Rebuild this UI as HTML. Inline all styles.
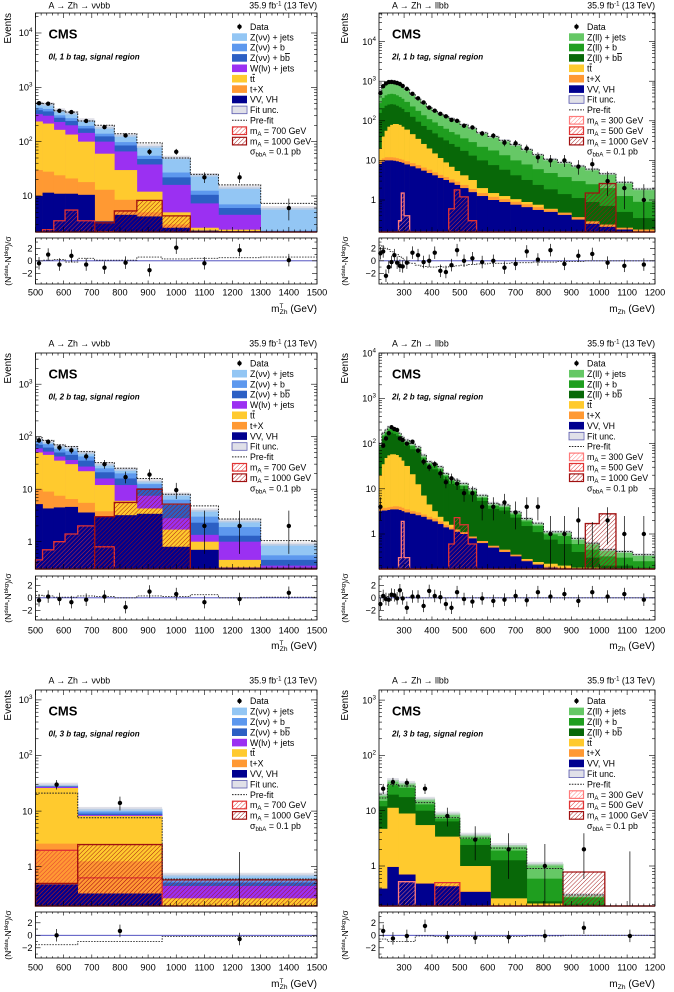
<!DOCTYPE html>
<html><head><meta charset="utf-8">
<style>
html,body{margin:0;padding:0;background:#fff;}
svg{display:block;font-family:"Liberation Sans",Arial,sans-serif;}
</style></head>
<body>
<svg id="fig" xmlns="http://www.w3.org/2000/svg" width="674" height="992" viewBox="0 0 674 992">
<defs>
<pattern id="h-s300" width="3" height="3" patternUnits="userSpaceOnUse" patternTransform="rotate(45)"><line x1="0" y1="0" x2="0" y2="3" stroke="#ff7a7a" stroke-width="0.9"/></pattern>
<pattern id="h-s500" width="3" height="3" patternUnits="userSpaceOnUse" patternTransform="rotate(45)"><line x1="0" y1="0" x2="0" y2="3" stroke="#e03333" stroke-width="0.9"/></pattern>
<pattern id="h-s1000" width="3" height="3" patternUnits="userSpaceOnUse" patternTransform="rotate(45)"><line x1="0" y1="0" x2="0" y2="3" stroke="#a01010" stroke-width="0.9"/></pattern>
<pattern id="h-fit" width="2" height="2" patternUnits="userSpaceOnUse"><rect width="2" height="2" fill="#e4e4ec" opacity="0.5"/><line x1="1" y1="0" x2="1" y2="2" stroke="#b8b8c8" stroke-width="0.6"/></pattern>
</defs>
</svg>
<script>
// ---------- binning ----------
const edgesVV = [500,525,565,605,650,710,780,860,950,1050,1150,1300,1500];
const edgesVV3 = [500,650,950,1500];
const edgesLL = [210,220,230,240,250,260,270,280,290,300,320,340,360,380,400,420,440,460,480,500,530,560,600,640,680,720,760,800,850,900,950,1000,1060,1120,1200];
const edgesLL3 = [210,240,280,340,410,500,610,740,870,1020,1200];

// ---------- 0l, 1b (cumulative stack tops) ----------
const r1l_zj  = [507,490,380,340,250,185,132,83,51,24.4,14.4,6.0];
const r1l_zb  = [420,400,305,270,195,140,98,55,27,12.5,7.0,2.3];
const r1l_zbb = [380,360,275,240,175,125,85,48,22,10.5,6.0,2.25];
const r1l_w   = [320,300,230,200,145,100,66,38,16,7.3,4.5,2.2];
const r1l_tt  = [235,215,165,135,100,60,30,12,5.0,2.6,2.4,2.2];
const r1l_tx  = [30,28,24,21,18,13,8.5,5.0,3.0,2.3,2.25,2.2];
const r1l_vv  = [10,11.5,11,11,10.5,3.4,4.5,4.2,2.6,2.3,2.25,2.2];
const r1l_data = [510,500,370,350,240,185,130,65,65,22,22,6];
const r1l_prefit = [510,500,370,350,240,200,140,95,50,25,16,7.3];
const r1l_ratio = [-0.4,1.0,-0.6,0.8,-0.6,-1.1,-0.3,-1.5,2.1,-0.4,1.7,0.1];
const r1l_prefitRatio = [0,0.1,0.2,-0.2,0.4,0.1,0.1,0.6,0.3,0.4,0.5,0.6];
const r1l_sig700 = [0,2.4,3.5,5.5,3.5,2.2,0,0,0,0,0,0];
const r1l_sig1000 = [0,0,0,0,0,3.2,5.3,8.3,4.3,0,0,0];

// ---------- 2l, 1b ----------
const r1r_zj  = [540,760,890,980,1000,1000,930,850,760,630,470,360,280,220,178,150,132,115,100,80,66,50,40,32,25,19,14,10.7,8.9,7.2,6.0,4.6,2.8,1.9];
const r1r_zb  = [280,380,440,470,480,470,440,400,360,300,230,178,138,110,91,74,63,52,45,36,29,22,17.8,13.5,10,7.9,6,4.8,3.8,3.0,2.5,2.0,1.26,0.9];
const r1r_zbb = [158,210,240,257,263,257,240,219,200,166,126,95,74,59,48,38,32,26,22,17.4,13.2,10,7.6,5.8,4.2,3.2,2.4,1.86,1.41,1.12,0.89,0.71,0.5,0.35];
const r1r_tt  = [20,40,56,71,79,83,83,79,71,60,46,35,26,20,15,11.5,8.9,6.9,5.4,4.2,3.2,2.0,1.5,1.26,1.05,0.89,0.76,0.6,0.45,0.32,0.25,0.2,0.18,0.16];
const r1r_tx  = [9.5,11.2,12,12,12,11.8,11.4,10.9,10.4,9.5,8.5,7.6,6.6,5.8,5.0,4.3,3.8,3.3,2.9,2.4,1.9,1.5,1.2,1.05,0.9,0.78,0.66,0.58,0.48,0.37,0.29,0.24,0.2,0.18];
const r1r_vv  = [7.9,9.3,10,10,10,9.8,9.5,9.1,8.7,7.9,7.1,6.3,5.5,4.8,4.2,3.6,3.2,2.75,2.4,2.0,1.58,1.26,1.0,0.89,0.76,0.66,0.56,0.5,0.42,0.32,0.25,0.21,0.18,0.16];
const r1r_data = [500,750,880,950,960,940,900,850,760,640,480,370,290,215,180,150,130,105,100,75,68,48,42,28,27,20,12,10,10,7,8,3,2,1];
const r1r_ratio = [1.2,1.5,-2.4,-1,-0.2,0.9,-0.3,-0.8,-0.9,-0.3,1.3,0.9,-0.2,0,1.3,-1.6,-1.8,-0.7,1.7,0,0.4,-0.2,0,-1.1,-0.5,1.5,0.2,1.7,-0.5,0.8,1.1,-0.3,-0.8,-0.6];
const r1r_prefitRatio = [2.5,2.2,2.0,1.8,1.5,1.2,1.0,0.7,0.4,0,-0.4,-0.7,-0.9,-1,-1,-0.9,-1,-0.9,-0.8,-0.7,-0.6,-0.5,-0.4,-0.4,-0.3,-0.3,-0.2,-0.2,-0.1,-0.1,0,0,0,0];
const r1r_sig300 = [0,0,0,0,0,0,0,0.3,1.5,0.4,0,0,0,0,0,0,0,0,0,0,0,0,0,0,0,0,0,0,0,0,0,0,0,0];
const r1r_sig500 = [0,0,0,0,0,0,0,0,0,0,0,0,0,0,0,0,0,0.6,1.8,1.2,0.3,0,0,0,0,0,0,0,0,0,0,0,0,0];
const r1r_sig1000 = [0,0,0,0,0,0,0,0,0,0,0,0,0,0,0,0,0,0,0,0,0,0,0,0,0,0,0,0,0,0,1.5,2.6,0,0];

// ---------- 0l, 2b ----------
const r2l_zj  = [90,80,67,62,50,30,24,14.4,8.0,4.0,2.5,0.9];
const r2l_zb  = [80,72,58,53,42,25,20,12.5,6.3,3.0,1.9,0.55];
const r2l_zbb = [70,62,50,45,35,21,16,10.5,5.0,2.3,1.3,0.45];
const r2l_w   = [60,52,42,36,27,16,12,7.5,2.8,1.35,1.0,0.35];
const r2l_tt  = [50,45,35,30,22,12,6.0,4.3,1.7,1.0,0.45,0.32];
const r2l_tx  = [10,9,7.5,6.5,5.5,3.8,3.0,2.0,0.8,0.7,0.33,0.32];
const r2l_vv  = [5.2,4.3,4.5,4.6,3.6,3.0,3.2,3.4,0.8,0.7,0.32,0.32];
const r2l_data = [85,80,62,55,42,30,17,19,9.6,2,2,2];
const r2l_prefit = [95,85,70,65,52,32,25,16,8,4.8,2.7,1.05];
const r2l_ratio = [-0.4,0.2,-0.2,-0.7,-0.3,0.2,-1.5,1.0,0.6,-0.7,-0.2,0.8];
const r2l_prefitRatio = [0.4,0.3,0.1,0.1,0.3,0.2,0,0.3,0.2,0.5,0,0.1];
const r2l_sig700 = [0.45,0.7,1.0,1.4,2.0,0.8,0,0,0,0,0,0];
const r2l_sig1000 = [0,0,0,0,0,3.0,5.6,10,5.2,0,0,0];

// ---------- 2l, 2b ----------
const r2r_zj  = [100,170,200,234,234,219,200,170,141,120,100,85,56,40,36,31,22,17,15.5,13.2,10,7.2,4.8,4.4,3.1,2.2,1.74,1.12,1.12,0.8,0.63,0.45,0.41,0.35];
const r2r_zb  = [88,150,176,206,206,193,176,150,124,106,88,75,49,35,32,27,19.4,15,13.6,11.6,8.8,6.3,4.2,3.9,2.7,1.9,1.5,0.98,0.9,0.6,0.45,0.32,0.3,0.25];
const r2r_zbb = [75,128,150,175,175,164,150,128,106,90,75,64,42,30,27,23,16.5,12.8,11.6,9.9,7.5,5.4,3.6,3.3,2.3,1.5,1.1,0.75,0.6,0.4,0.3,0.2,0.2,0.18];
const r2r_tt  = [20,35,48,55,58,58,56,50,42,32,21,12.6,7.1,4.5,3.2,2.4,1.9,1.6,1.26,1.0,0.8,0.7,0.5,0.45,0.32,0.28,0.24,0.22,0.2,0.18,0.18,0.17,0.17,0.17];
const r2r_tx  = [3.6,3.8,3.8,3.9,4.0,4.1,4.1,4.0,3.8,3.5,3.2,3.0,2.7,2.4,2.2,1.9,1.6,1.4,1.25,1.1,0.88,0.7,0.55,0.44,0.35,0.27,0.22,0.19,0.18,0.17,0.17,0.17,0.17,0.17];
const r2r_vv  = [3.2,3.3,3.3,3.4,3.5,3.5,3.5,3.4,3.2,3.0,2.8,2.6,2.4,2.1,1.9,1.66,1.4,1.26,1.12,1.0,0.8,0.63,0.5,0.4,0.32,0.25,0.21,0.18,0.17,0.17,0.17,0.17,0.17,0.17];
const r2r_data = [4,90,130,170,230,210,200,130,120,100,110,70,40,30,35,22,14,17,13,8,8,4,4,5,3,4,4,1,1,2,0,2,1,1];
const r2r_ratio = [-1,0.3,-0.2,-0.3,0.5,0.4,-0.1,1.2,-0.1,-1.6,0.2,0.2,-1.3,1.1,0.3,0.1,-1,-1.6,0.9,-0.2,-0.6,-0.1,-0.5,-0.3,0.3,-0.4,0.9,0.2,0.6,-0.5,0.9,0.2,0.6,-0.3];
const r2r_prefitRatio = [0.3,0.3,0.2,0.2,0.2,0.2,0.1,0.1,0.1,0.1,0,0,0,0,0,0,0,0,0,0,0,0,0,0,0,0,0,0,0,0,0,0,0,0];
const r2r_sig300 = [0,0,0,0,0,0,0,0.3,1.9,0.3,0,0,0,0,0,0,0,0,0,0,0,0,0,0,0,0,0,0,0,0,0,0,0,0];
const r2r_sig500 = [0,0,0,0,0,0,0,0,0,0,0,0,0,0,0,0,0,0.6,2.3,1.6,0.6,0,0,0,0,0,0,0,0,0,0,0,0,0];
const r2r_sig1000 = [0,0,0,0,0,0,0,0,0,0,0,0,0,0,0,0,0,0,0,0,0,0,0,0,0,0,0,0,0,0,1.7,2.8,0,0];

// ---------- 0l, 3b ----------
const r3l_zj  = [30,11,0.72];
const r3l_zb  = [29,9.8,0.58];
const r3l_zbb = [28,9.0,0.52];
const r3l_w   = [27,8.5,0.45];
const r3l_tt  = [26,8.2,0.27];
const r3l_tx  = [2.6,1.25,0.2];
const r3l_vv  = [0.48,0.33,0.2];
const r3l_data = [30,14,0];
const r3l_prefit = [21,7.6,0.6];
const r3l_ratio = [0,0.7,-0.6];
const r3l_prefitRatio = [-1.5,-1.0,-0.2];
const r3l_sig700 = [1.97,0.63,0];
const r3l_sig1000 = [0.5,2.5,0.58];

// ---------- 2l, 3b ----------
const r3r_zj  = [20,36,32,16.5,8.9,3.7,2.4,1.1,0.3,0];
const r3r_zb  = [15,29,26,13,7.2,3.1,1.9,0.59,0.27,0];
const r3r_zbb = [12,19.5,17.6,10,6.4,2.4,1.27,0.23,0.2,0];
const r3r_tt  = [4.7,11.3,8.9,5.5,3.4,1.0,0.26,0.21,0.19,0];
const r3r_tx  = [0.39,0.97,0.71,0.49,0.44,0.35,0.19,0.19,0.19,0];
const r3r_vv  = [0.39,0.96,0.7,0.48,0.43,0.34,0.19,0.19,0.19,0];
const r3r_data = [25,33,32,25,8,3,2,1,2,0];
const r3r_prefit = [17,30,28,14,7.5,3.2,2.1,0.9,0.3,0];
const r3r_ratio = [0.7,-0.5,-0.1,1.5,-0.3,-0.4,-0.3,-0.1,1.2,-0.1];
const r3r_prefitRatio = [-0.6,-1.0,-1.0,-0.1,-0.2,-0.2,-0.2,-0.1,0,0];
const r3r_sig300 = [0,0,0.52,0,0,0,0,0,0,0];
const r3r_sig500 = [0,0,0,0,0.5,0,0,0,0,0];
const r3r_sig1000 = [0,0,0,0,0,0,0,0,0.78,0];

// ---------- tick labels ----------
const xTicksVV = [500,600,700,800,900,1000,1100,1200,1300,1400,1500];
const xTicksLL = [300,400,500,600,700,800,900,1000,1100,1200];
const ratioTicks = [-2,0,2];

const C = {zvj:'#93c6f4',zvb:'#5d98ee',zvbb:'#2c5fc4',w:'#9b30f2',tt:'#ffca2e',tx:'#ff9933',vv:'#00008f',zlj:'#66c866',zlb:'#1f9e1f',zlbb:'#086808',s300:'#ff7a7a',s500:'#e03333',s1000:'#a01010'};

const svg = document.getElementById('fig');
const NS = 'http://www.w3.org/2000/svg';
function mk(tag, parent, attrs){ const e = document.createElementNS(NS, tag); for (const k in attrs) e.setAttribute(k, attrs[k]); parent.appendChild(e); return e; }

const rows = [
  {oy:0,   mt:13, mb:232, rt:238, rb:284, r0:260.8, hdr:5, xl:292, xt:309},
  {oy:330, mt:23, mb:239, rt:246, rb:290, r0:267.8, hdr:13, xl:300, xt:316},
  {oy:662, mt:28, mb:244, rt:250, rb:296, r0:273.3, hdr:18, xl:305, xt:322}
];

const FS = 8.8;
const vvLegend = ()=>[['data','Data'],['box','Z(νν) + jets',C.zvj],['box','Z(νν) + b',C.zvb],['box','Z(νν) + b|b',C.zvbb],['box','W(lν) + jets',C.w],['box','t|t',C.tt],['box','t+X',C.tx],['box','VV, VH',C.vv],['fit','Fit unc.'],['prefit','Pre-fit'],['sig','m_A = 700 GeV','s500'],['sig','m_A = 1000 GeV','s1000'],['text','σ_bbA = 0.1 pb']];
const llLegend = ()=>[['data','Data'],['box','Z(ll) + jets',C.zlj],['box','Z(ll) + b',C.zlb],['box','Z(ll) + b|b',C.zlbb],['box','t|t',C.tt],['box','t+X',C.tx],['box','VV, VH',C.vv],['fit','Fit unc.'],['prefit','Pre-fit'],['sig','m_A = 300 GeV','s300'],['sig','m_A = 500 GeV','s500'],['sig','m_A = 1000 GeV','s1000'],['text','σ_bbA = 0.1 pb']];

const panels = [
 {name:'panel-0l-1b', row:0, ox:0, fx0:35.5, fx1:317, xmin:500, xmax:1500, y1:250.3, dec:54.33, edges:edgesVV, ll:false, tag:'0l, 1 b tag, signal region',
  stack:[[r1l_zj,C.zvj],[r1l_zb,C.zvb],[r1l_zbb,C.zvbb],[r1l_w,C.w],[r1l_tt,C.tt],[r1l_tx,C.tx],[r1l_vv,C.vv]],
  data:r1l_data, prefit:r1l_prefit, ratio:r1l_ratio, pr:r1l_prefitRatio, sigs:[[r1l_sig700,'s500'],[r1l_sig1000,'s1000']]},
 {name:'panel-2l-1b', row:0, ox:337, fx0:42, fx1:318, xmin:210, xmax:1200, y1:200, dec:39.6, edges:edgesLL, ll:true, tag:'2l, 1 b tag, signal region',
  stack:[[r1r_zj,C.zlj],[r1r_zb,C.zlb],[r1r_zbb,C.zlbb],[r1r_tt,C.tt],[r1r_tx,C.tx],[r1r_vv,C.vv]],
  data:r1r_data, prefit:r1r_zj, ratio:r1r_ratio, pr:r1r_prefitRatio, sigs:[[r1r_sig300,'s300'],[r1r_sig500,'s500'],[r1r_sig1000,'s1000']]},
 {name:'panel-0l-2b', row:1, ox:0, fx0:35.5, fx1:317, xmin:500, xmax:1500, y1:211.7, dec:52.5, edges:edgesVV, ll:false, tag:'0l, 2 b tag, signal region',
  stack:[[r2l_zj,C.zvj],[r2l_zb,C.zvb],[r2l_zbb,C.zvbb],[r2l_w,C.w],[r2l_tt,C.tt],[r2l_tx,C.tx],[r2l_vv,C.vv]],
  data:r2l_data, prefit:r2l_prefit, ratio:r2l_ratio, pr:r2l_prefitRatio, sigs:[[r2l_sig700,'s500'],[r2l_sig1000,'s1000']]},
 {name:'panel-2l-2b', row:1, ox:337, fx0:42, fx1:318, xmin:210, xmax:1200, y1:204, dec:45.2, edges:edgesLL, ll:true, tag:'2l, 2 b tag, signal region',
  stack:[[r2r_zj,C.zlj],[r2r_zb,C.zlb],[r2r_zbb,C.zlbb],[r2r_tt,C.tt],[r2r_tx,C.tx],[r2r_vv,C.vv]],
  data:r2r_data, prefit:r2r_zj, ratio:r2r_ratio, pr:r2r_prefitRatio, sigs:[[r2r_sig300,'s300'],[r2r_sig500,'s500'],[r2r_sig1000,'s1000']]},
 {name:'panel-0l-3b', row:2, ox:0, fx0:35.5, fx1:317, xmin:500, xmax:1500, y1:204.7, dec:55.6, edges:edgesVV3, ll:false, tag:'0l, 3 b tag, signal region',
  stack:[[r3l_zj,C.zvj],[r3l_zb,C.zvb],[r3l_zbb,C.zvbb],[r3l_w,C.w],[r3l_tt,C.tt],[r3l_tx,C.tx],[r3l_vv,C.vv]],
  data:r3l_data, prefit:r3l_prefit, ratio:r3l_ratio, pr:r3l_prefitRatio, sigs:[[r3l_sig700,'s500'],[r3l_sig1000,'s1000']]},
 {name:'panel-2l-3b', row:2, ox:337, fx0:42, fx1:318, xmin:210, xmax:1200, y1:204, dec:55.3, edges:edgesLL3, ll:true, tag:'2l, 3 b tag, signal region',
  stack:[[r3r_zj,C.zlj],[r3r_zb,C.zlb],[r3r_zbb,C.zlbb],[r3r_tt,C.tt],[r3r_tx,C.tx],[r3r_vv,C.vv]],
  data:r3r_data, prefit:r3r_prefit, ratio:r3r_ratio, pr:r3r_prefitRatio, sigs:[[r3r_sig300,'s300'],[r3r_sig500,'s500'],[r3r_sig1000,'s1000']]}
];

function txt(parent, x, y, s, size, attrs){ const t = mk('text', parent, Object.assign({x:x, y:y, 'font-size':size, fill:'#000'}, attrs||{})); t.textContent = s; return t; }
function subLabel(parent, x, y, main, sub, size, rest){
  const t = mk('text', parent, {x:x, y:y, 'font-size':size});
  const a = mk('tspan', t, {}); a.textContent = main;
  const b = mk('tspan', t, {'font-size':size*0.7, dy:2}); b.textContent = sub;
  if (rest){ const c = mk('tspan', t, {dy:-2}); c.textContent = rest; }
  return t;
}
// "|" marks the start of an overlined final character sequence
function barLabel(parent, x, y, lbl, size){
  const t = mk('text', parent, {x:x, y:y, 'font-size':size});
  const [a, b] = lbl.split('|');
  const s1 = mk('tspan', t, {}); s1.textContent = a;
  const s2 = mk('tspan', t, {'text-decoration':'overline'}); s2.textContent = b;
  return t;
}

panels.forEach(P => {
  const R = rows[P.row];
  const g = mk('g', svg, {transform:`translate(${P.ox},${R.oy})`});
  
  
  const X = v => P.fx0 + (v - P.xmin) / (P.xmax - P.xmin) * (P.fx1 - P.fx0);
  const Y = v => { if (!(v > 0)) return R.mb; const y = P.y1 - Math.log10(v) * P.dec; return Math.max(R.mt, Math.min(R.mb, y)); };
  const RY = v => Math.max(R.rt, Math.min(R.rb, R.r0 - v * 6.25));
  const E = P.edges, nb = E.length - 1;

  P.stack.forEach((comp, ci) => {
    const sg = mk('g', g, {});
    
    
    for (let i = 0; i < nb; i++) {
      const y = Y(comp[0][i]);
      const r = mk('rect', sg, {x:X(E[i]), y:y, width:X(E[i+1]) - X(E[i]) + 0.3, height:R.mb - y, fill:comp[1]});
      
      
    }
  });
  const tot = P.stack[0][0];
  for (let i = 0; i < nb; i++) {
    if (!(tot[i] > 0)) continue;
    const y0 = Y(tot[i] * 1.08), y1 = Y(tot[i] * 0.93);
    const r = mk('rect', g, {x:X(E[i]), y:y0, width:X(E[i+1]) - X(E[i]), height:Math.max(0, y1 - y0), fill:'url(#h-fit)'});
    
    
  }
  P.sigs.forEach(s => {
    let d = `M${X(E[0])},${R.mb}`;
    for (let i = 0; i < nb; i++) d += ` V${Y(s[0][i])} H${X(E[i+1])}`;
    d += ` V${R.mb} Z`;
    const p = mk('path', g, {d:d, fill:'url(#h-' + s[1] + ')', stroke:C[s[1]], 'stroke-width':1.3});
    
    
  });
  {
    let d = '';
    for (let i = 0; i < nb; i++) { if (!(P.prefit[i] > 0)) continue; d += `M${X(E[i])},${Y(P.prefit[i])} H${X(E[i+1])} `; if (i+1 < nb && P.prefit[i+1] > 0) d += `V${Y(P.prefit[i+1])} `; }
    const p = mk('path', g, {d:d, fill:'none', stroke:'#222', 'stroke-width':1, 'stroke-dasharray':'1.6,1.2'});
    
    
  }
  for (let i = 0; i < nb; i++) {
    const v = P.data[i], cx = (X(E[i]) + X(E[i+1])) / 2;
    const up = v > 0 ? v + Math.sqrt(v) + 0.5 : 1.84;
    const lo = v > 0 ? Math.max(v - Math.sqrt(v), 0.001) : 0;
    const l = mk('line', g, {x1:cx, x2:cx, y1:Y(up), y2:Y(lo), stroke:'#000', 'stroke-width':0.7});
    
    
    if (v > 0) {
      const c = mk('circle', g, {cx:cx, cy:Y(v), r:2.2, fill:'#000'});
      
      
    }
  }
  const fr = mk('rect', g, {x:P.fx0, y:R.mt, width:P.fx1 - P.fx0, height:R.mb - R.mt, fill:'none', stroke:'#000', 'stroke-width':0.8});
  
  
  const rf = mk('rect', g, {x:P.fx0, y:R.rt, width:P.fx1 - P.fx0, height:R.rb - R.rt, fill:'#fff', stroke:'#000', 'stroke-width':0.8});
  
  
  const zl = mk('line', g, {x1:P.fx0, x2:P.fx1, y1:RY(0), y2:RY(0), stroke:'#3a3ab8', 'stroke-width':0.9});
  
  
  {
    let d = '';
    for (let i = 0; i < nb; i++) { d += (i === 0 ? `M${X(E[0])},${RY(P.pr[0])}` : ` V${RY(P.pr[i])}`) + ` H${X(E[i+1])}`; }
    const p = mk('path', g, {d:d, fill:'none', stroke:'#333', 'stroke-width':0.9, 'stroke-dasharray':'1.6,1.2'});
    
    
  }
  for (let i = 0; i < nb; i++) {
    const v = P.ratio[i], cx = (X(E[i]) + X(E[i+1])) / 2;
    const l = mk('line', g, {x1:cx, x2:cx, y1:RY(v + 1), y2:RY(v - 1), stroke:'#000', 'stroke-width':0.7});
    
    
    const c = mk('circle', g, {cx:cx, cy:RY(v), r:2.2, fill:'#000'});
    
    
  }
  const xt = P.ll ? xTicksLL : xTicksVV;
  const tg = mk('g', g, {stroke:'#000', 'stroke-width':0.6});
  
  
  for (let v = Math.ceil(P.xmin / 20) * 20; v <= P.xmax; v += 20) {
    const maj = v % 100 === 0, x = X(v), L = maj ? 5 : 2.5;
    mk('line', tg, {x1:x, x2:x, y1:R.mb, y2:R.mb - L});
    mk('line', tg, {x1:x, x2:x, y1:R.mt, y2:R.mt + L});
    mk('line', tg, {x1:x, x2:x, y1:R.rb, y2:R.rb - L*0.7});
    mk('line', tg, {x1:x, x2:x, y1:R.rt, y2:R.rt + L*0.7});
  }
  xt.forEach(v => {
    const t = txt(g, X(v), R.xl + 3.5, String(v), 9.2, {'text-anchor':'middle'});
    
    
  });
  const lmin = (P.y1 - R.mb) / P.dec, lmax = (P.y1 - R.mt) / P.dec;
  for (let n = Math.floor(lmin); n <= Math.ceil(lmax); n++) {
    for (let k = 1; k <= 9; k++) {
      const lv = n + Math.log10(k);
      if (lv < lmin || lv > lmax) continue;
      const y = P.y1 - lv * P.dec, L = k === 1 ? 6 : 3;
      mk('line', tg, {x1:P.fx0, x2:P.fx0 + L, y1:y, y2:y});
      mk('line', tg, {x1:P.fx1, x2:P.fx1 - L, y1:y, y2:y});
      if (k === 1) {
        const t = mk('text', g, {x:P.fx0 - 3, y:y + 3.2, 'font-size':9.2, 'text-anchor':'end'});
        
        
        if (n === 0) t.textContent = '1';
        else if (n === 1) t.textContent = '10';
        else { const a = mk('tspan', t, {}); a.textContent = '10'; const b = mk('tspan', t, {dy:-4, 'font-size':6.3}); b.textContent = String(n); }
      }
    }
  }
  for (let v = -3; v <= 3; v++) {
    const y = RY(v), L = v % 2 === 0 ? 5 : 2.5;
    mk('line', tg, {x1:P.fx0, x2:P.fx0 + L, y1:y, y2:y});
    mk('line', tg, {x1:P.fx1, x2:P.fx1 - L, y1:y, y2:y});
  }
  ratioTicks.forEach(v => {
    const t = txt(g, P.fx0 - 3, RY(v) + 3.2, v < 0 ? '−' + Math.abs(v) : String(v), 9.2, {'text-anchor':'end'});
    
    
  });
  const yt = txt(g, 0, 0, 'Events', 10, {transform:`translate(11,${R.mt}) rotate(-90)`, 'text-anchor':'end'});
  
  
  {
    const t = mk('text', g, {transform:`translate(11,${(R.rt + R.rb) / 2}) rotate(-90)`, 'font-size':8.6, 'text-anchor':'middle'});
    
    
    const parts = [['(N',0,8.6],['data',-3,5.8],['-N',3,8.6],['bkg',-3,5.8],[')/σ',3,8.6]];
    parts.forEach(p => { const s = mk('tspan', t, {dy:p[1], 'font-size':p[2]}); s.textContent = p[0]; });
  }
  {
    const t = mk('text', g, {x:P.fx1, y:R.xt + 3, 'font-size':10, 'text-anchor':'end'});
    
    
    const a = mk('tspan', t, {}); a.textContent = 'm';
    if (!P.ll) { const s = mk('tspan', t, {dy:-4, 'font-size':6.3}); s.textContent = 'T'; const b = mk('tspan', t, {dy:6, dx:-3.7, 'font-size':6.8}); b.textContent = 'Zh'; }
    else { const b = mk('tspan', t, {dy:2, 'font-size':6.8}); b.textContent = 'Zh'; }
    const c = mk('tspan', t, {dy:-2}); c.textContent = ' (GeV)';
  }
  const h1 = txt(g, P.fx0 + 13, R.hdr + 3.5, P.ll ? 'A → Zh → llbb' : 'A → Zh → ννbb', 8.8);
  
  
  {
    const t = mk('text', g, {x:P.fx1, y:R.hdr + 3.5, 'font-size':8.8, 'text-anchor':'end'});
    
    
    const a = mk('tspan', t, {}); a.textContent = '35.9 fb';
    const b = mk('tspan', t, {dy:-3, 'font-size':6}); b.textContent = '-1';
    const c = mk('tspan', t, {dy:3}); c.textContent = ' (13 TeV)';
  }
  const cms = txt(g, P.fx0 + 13, R.mt + 25.5, 'CMS', 13, {'font-weight':'bold'});
  
  
  const sub = txt(g, P.fx0 + 13, R.mt + 46.5, P.tag, 8, {'font-weight':'bold', 'font-style':'italic'});
  
  
  const legY0 = [26.7, 33.3, 39][P.row], dy = 10.4;
  const lg = mk('g', g, {});
  
  
  (P.ll ? llLegend() : vvLegend()).forEach((en, i) => {
    const y = legY0 + i * dy;
    const eg = mk('g', lg, {});
    
    
    const bx = 232, bw = 15, bh = 7.6;
    if (en[0] === 'data') { mk('circle', eg, {cx:bx + bw/2, cy:y, r:2.2, fill:'#000'}); mk('line', eg, {x1:bx+bw/2, x2:bx+bw/2, y1:y-3, y2:y+3, stroke:'#000', 'stroke-width':0.7}); }
    else if (en[0] === 'box') mk('rect', eg, {x:bx, y:y - bh/2, width:bw, height:bh, fill:en[2]});
    else if (en[0] === 'fit') mk('rect', eg, {x:bx, y:y - bh/2, width:bw, height:bh, fill:'url(#h-fit)', stroke:'#5a5ab0', 'stroke-width':0.8});
    else if (en[0] === 'prefit') mk('line', eg, {x1:bx, x2:bx + bw, y1:y, y2:y, stroke:'#222', 'stroke-dasharray':'1.6,1.2'});
    else if (en[0] === 'sig') mk('rect', eg, {x:bx + 0.5, y:y - bh/2, width:bw - 1, height:bh, fill:'url(#h-' + en[2] + ')', stroke:C[en[2]], 'stroke-width':1.2});
    const lbl = en[1], tx = bx + bw + 3, ty = y + 3.2;
    if (lbl.indexOf('_') >= 0) {
      const [m, rest] = lbl.split('_');
      const sp = rest.indexOf(' ');
      subLabel(eg, tx, ty, m, rest.slice(0, sp), FS, rest.slice(sp));
    } else if (lbl.indexOf('|') >= 0) barLabel(eg, tx, ty, lbl, FS);
    else txt(eg, tx, ty, lbl, FS);
  });
});
</script>
</body></html>
